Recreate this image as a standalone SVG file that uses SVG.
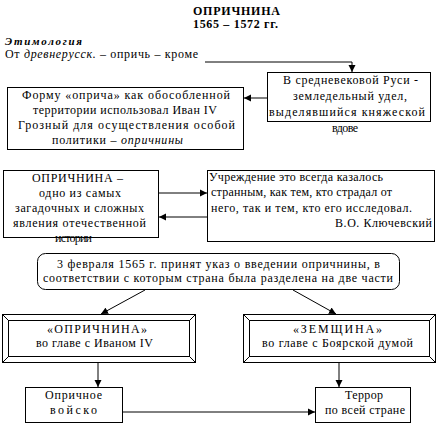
<svg xmlns="http://www.w3.org/2000/svg" width="438" height="424" viewBox="0 0 438 424">
<style>
text{font-family:'Liberation Serif','Times New Roman',serif;font-size:12px;fill:#000}
.c{text-anchor:middle}
.b{font-weight:bold}
.box{fill:#fff;stroke:#000;stroke-width:1}
.ln{fill:none;stroke:#000;stroke-width:1}
</style>
<defs>
<marker id="ah" markerUnits="userSpaceOnUse" markerWidth="8" markerHeight="8" refX="7" refY="4" orient="auto">
<path d="M0,0.5 L7,4 L0,7.5 z" fill="#000"/>
</marker>
</defs>
<rect width="438" height="424" fill="#fff"/>
<g id="title">
<text class="c b" x="236.5" y="15" textLength="87">ОПРИЧНИНА</text>
<text class="c b" x="235.5" y="28" textLength="85">1565 – 1572 гг.</text>
</g>
<g id="etym">
<text x="5" y="45" style="font-weight:bold;font-style:italic;font-size:11px" textLength="77">Этимология</text>
<text x="5" y="58" textLength="193">От <tspan font-style="italic">древнерусск.</tspan> – опричь – кроме</text>
</g>
<g id="connectors">
<polyline class="ln" points="205,62 352,62 352,72" marker-end="url(#ah)"/>
<line class="ln" x1="267" y1="98" x2="244" y2="98" marker-end="url(#ah)"/>
<line class="ln" x1="159" y1="193" x2="207" y2="193" marker-end="url(#ah)"/>
<line class="ln" x1="207" y1="217" x2="159" y2="217" marker-end="url(#ah)"/>
<line class="ln" x1="145" y1="290" x2="101" y2="314" marker-end="url(#ah)"/>
<line class="ln" x1="293" y1="290" x2="336" y2="314" marker-end="url(#ah)"/>
<line class="ln" x1="98" y1="363" x2="98" y2="387" marker-end="url(#ah)"/>
<line class="ln" x1="339" y1="363" x2="339" y2="387" marker-end="url(#ah)"/>
<line class="ln" x1="123" y1="412" x2="315" y2="412" marker-end="url(#ah)"/>
</g>
<g id="node-rus">
<rect class="box" x="267.5" y="72.5" width="163" height="49"/>
<text class="c" x="350.5" y="84" textLength="135">В  средневековой Руси -</text>
<text class="c" x="350" y="100" textLength="114">земледельный удел,</text>
<text class="c" x="347" y="116" textLength="156">выделявшийся княжеской</text>
<text class="c" x="345" y="132" textLength="26">вдове</text>
</g>
<g id="node-forma">
<rect class="box" x="7.5" y="87.5" width="236" height="62"/>
<text class="c" x="126" y="99" textLength="208">Форму «оприча» как обособленной</text>
<text class="c" x="125" y="114" textLength="184">территории использовал Иван IV</text>
<text class="c" x="126.5" y="129" textLength="217">Грозный для осуществления особой</text>
<text class="c" x="117.5" y="144" textLength="131">политики – <tspan font-style="italic">опричнины</tspan></text>
</g>
<g id="node-oprichnina-def">
<rect class="box" x="3.5" y="170.5" width="155" height="67"/>
<text class="c" x="77.5" y="182" textLength="91">ОПРИЧНИНА –</text>
<text class="c" x="80" y="197" textLength="82">одно из самых</text>
<text class="c" x="79.5" y="212" textLength="129">загадочных и сложных</text>
<text class="c" x="79.5" y="227" textLength="133">явления отечественной</text>
<text class="c" x="73.5" y="242" textLength="37">истории</text>
</g>
<g id="node-klyuchevsky">
<rect class="box" x="207.5" y="170.5" width="227" height="71"/>
<text x="209" y="181" textLength="174">Учреждение это всегда казалось</text>
<text x="211" y="196" textLength="181">странным, как тем, кто страдал от</text>
<text x="211" y="212" textLength="201">него, так и тем, кто его исследовал.</text>
<text x="335" y="227" textLength="97">В.О. Ключевский</text>
</g>
<g id="node-decree">
<rect class="box" x="37.5" y="253.5" width="362" height="36" rx="8" ry="8"/>
<text x="57" y="268" textLength="323">3 февраля 1565 г. принят указ о введении опричнины, в</text>
<text x="43" y="282" textLength="350">соответствии с которым страна была разделена на две части</text>
</g>
<g id="node-oprichnina">
<rect class="box" x="2.5" y="314.5" width="193" height="48"/>
<rect class="ln" x="8.5" y="320.5" width="181" height="36"/>
<path class="ln" d="M2.5,314.5 L8.5,320.5 M195.5,314.5 L189.5,320.5 M2.5,362.5 L8.5,356.5 M195.5,362.5 L189.5,356.5"/>
<text class="c" x="97" y="333" textLength="100">«ОПРИЧНИНА»</text>
<text class="c" x="94.5" y="347" textLength="117">во главе с Иваном IV</text>
</g>
<g id="node-zemshchina">
<rect class="box" x="243.5" y="314.5" width="192" height="48"/>
<rect class="ln" x="249.5" y="320.5" width="180" height="36"/>
<path class="ln" d="M243.5,314.5 L249.5,320.5 M435.5,314.5 L429.5,320.5 M243.5,362.5 L249.5,356.5 M435.5,362.5 L429.5,356.5"/>
<text class="c" x="337.5" y="333" textLength="89">«ЗЕМЩИНА»</text>
<text class="c" x="337.5" y="347" textLength="151">во главе  с Боярской думой</text>
</g>
<g id="node-voisko">
<rect class="box" x="25.5" y="387.5" width="97" height="35"/>
<text class="c" x="73.5" y="399" textLength="57">Опричное</text>
<text class="c" x="73.5" y="414" textLength="47">войско</text>
</g>
<g id="node-terror">
<rect class="box" x="315.5" y="387.5" width="95" height="35"/>
<text class="c" x="364" y="399" textLength="38">Террор</text>
<text class="c" x="365" y="414" textLength="80">по всей стране</text>
</g>
</svg>
